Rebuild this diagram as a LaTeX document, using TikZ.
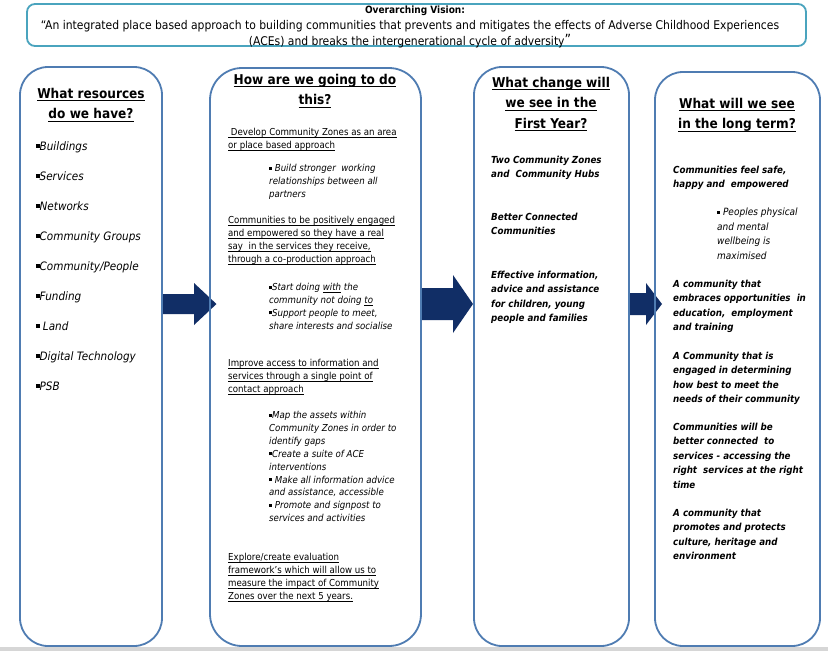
\documentclass[tikz,border=0pt]{standalone}
\usepackage{amsmath}
\usepackage{fontspec}
\setmainfont{DejaVu Sans}[FakeStretch=0.9]
\definecolor{panelblue}{RGB}{79,124,178}
\definecolor{visionteal}{RGB}{74,164,190}
\definecolor{arrownavy}{RGB}{17,46,102}
\definecolor{stripgray}{RGB}{214,214,214}
\newcommand{\undl}[1]{\underline{\smash[b]{#1}}}
\newcommand{\sqb}{\rule[.2em]{.3em}{.3em}}
\tikzset{
  panel/.style={draw=panelblue,line width=1.8pt,rounded corners=28pt},
  headtext/.style={anchor=north,align=center,inner sep=0pt,font=\fontsize{13.5}{20.5}\selectfont\bfseries},
  restext/.style={anchor=north west,align=left,inner sep=0pt,font=\fontsize{11.6}{30}\selectfont\itshape},
  plantext/.style={anchor=north west,align=left,inner sep=0pt,font=\fontsize{9.6}{13}\selectfont},
  planitem/.style={anchor=north west,align=left,inner sep=0pt,font=\fontsize{9.6}{12.9}\selectfont\itshape},
  outcome/.style={anchor=north west,align=left,inner sep=0pt,font=\fontsize{9.7}{14.4}\selectfont\bfseries\itshape}
}
\begin{document}
\begin{tikzpicture}[x=1pt,y=-1pt]
\useasboundingbox (0,0) rectangle (828,651);
\fill[white] (0,0) rectangle (828,651);
\fill[stripgray] (0,647) rectangle (828,651);

\draw[draw=visionteal,line width=1.8pt,rounded corners=8pt] (27,4) rectangle (806,46);
\node[inner sep=0pt,font=\fontsize{10}{12}\selectfont\bfseries] (visiontitle) at (415,10.5) {Overarching Vision:};
\node[inner sep=0pt,align=center,font=\fontsize{12}{16}\selectfont] (vision) at (410,34.5) {“An integrated place based approach to building communities that prevents and mitigates the effects of Adverse Childhood Experiences\\(ACEs) and breaks the intergenerational cycle of adversity\raisebox{1.5pt}{\fontsize{14}{14}\selectfont ”}};

\fill[arrownavy] (162,294) -- (194,294) -- (194,283) -- (216.5,304) -- (194,325) -- (194,314) -- (162,314) -- cycle;
\fill[arrownavy] (421,288) -- (453,288) -- (453,275) -- (473,304) -- (453,333) -- (453,320) -- (421,320) -- cycle;
\fill[arrownavy] (629,293) -- (646,293) -- (646,283) -- (662,304) -- (646,325) -- (646,315) -- (629,315) -- cycle;

\draw[panel] (20,67) rectangle (162,646);
\draw[panel,rounded corners=32pt] (210,68) rectangle (421,646);
\draw[panel] (474,67) rectangle (629,646);
\draw[panel] (655,72) rectangle (820,646);

\node[headtext] (reshead) at (91,88) {\undl{What resources}\\\undl{do we have?}};
\node[restext] (reslist) at (36,141) {\sqb Buildings\\\sqb Services\\\sqb Networks\\\sqb Community Groups\\\sqb Community/People\\\sqb Funding\\\sqb\ Land\\\sqb Digital Technology\\\sqb PSB};

\node[headtext] (howhead) at (315,74) {\undl{How are we going to do}\\\undl{this?}};
\node[plantext] (zones) at (228,128) {\undl{\ Develop Community Zones as an area}\\\undl{or place based approach}};
\node[planitem] (partners) at (269,164) {\sqb\ Build stronger\ \ working\\relationships between all\\partners};
\node[plantext] (engaged) at (228,216) {\undl{Communities to be positively engaged}\\\undl{and empowered so they have a real}\\\undl{say\ \ in the services they receive,}\\\undl{through a co-production approach}};
\node[planitem] (doing) at (269,283) {\sqb Start doing \undl{with} the\\community not doing \undl{to}\\\sqb Support people to meet,\\share interests and socialise};
\node[plantext] (access) at (228,359) {\undl{Improve access to information and}\\\undl{services through a single point of}\\\undl{contact approach}};
\node[planitem] (assets) at (269,411) {\sqb Map the assets within\\Community Zones in order to\\identify gaps\\\sqb Create a suite of ACE\\interventions\\\sqb\ Make all information advice\\and assistance, accessible\\\sqb\ Promote and signpost to\\services and activities};
\node[plantext] (evaluate) at (228,553) {\undl{Explore/create evaluation}\\\undl{framework's which will allow us to}\\\undl{measure the impact of Community}\\\undl{Zones over the next 5 years.}};

\node[headtext] (changehead) at (551,77) {\undl{What change will}\\\undl{we see in the}\\\undl{First Year?}};
\node[outcome] (hubs) at (491,156) {Two Community Zones\\and\ \ Community Hubs};
\node[outcome] (connected) at (491,213) {Better Connected\\Communities};
\node[outcome] (advice) at (491,271) {Effective information,\\advice and assistance\\for children, young\\people and families};

\node[headtext] (longhead) at (737,98) {\undl{What will we see}\\\undl{in the long term?}};
\node[outcome] (safe) at (673,166) {Communities feel safe,\\happy and\ \ empowered};
\node[anchor=north west,align=left,inner sep=0pt,font=\fontsize{10}{14.5}\selectfont\itshape] (wellbeing) at (717,208) {\sqb\ Peoples physical\\and mental\\wellbeing is\\maximised};
\node[outcome] (embraces) at (673,280) {A community that\\embraces opportunities\ \ in\\education,\ \ employment\\and training};
\node[outcome] (determining) at (673,352) {A Community that is\\engaged in determining\\how best to meet the\\needs of their community};
\node[outcome] (services) at (673,423) {Communities will be\\better connected\ \ to\\services - accessing the\\right\ \ services at the right\\time};
\node[outcome] (culture) at (673,509) {A community that\\promotes and protects\\culture, heritage and\\environment};
\end{tikzpicture}
\end{document}
